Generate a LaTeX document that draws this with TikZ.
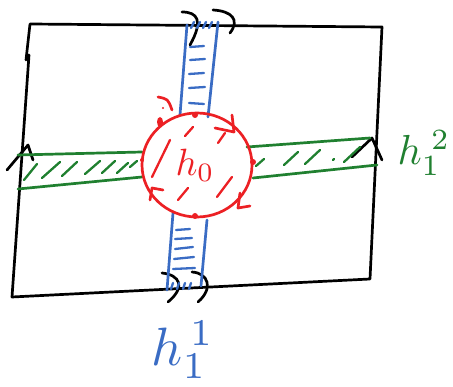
\documentclass[tikz,border=0pt]{standalone}
\usepackage{amsmath, amssymb}
\usepackage{tikz}
\usetikzlibrary{calc}

\definecolor{penblue}{RGB}{58,108,196}
\definecolor{pengreen}{RGB}{32,128,48}
\definecolor{penred}{RGB}{236,32,36}

\begin{document}
\begin{tikzpicture}[x=1pt, y=-1pt, line cap=round, line join=round,
    pen/.style={line width=2.7pt},
    hatch/.style={line width=2.3pt}]
    \useasboundingbox (0,0) rectangle (453,387);

    % Rectangle
    \draw[pen] (26,60) -- (30,24) -- (382,27) -- (370,279) -- (12,297) -- (29,55);

    % Identification arrows, top and bottom
    \draw[pen] (182,12) .. controls (197,12) and (204,20) .. (190,45);
    \draw[pen] (213,10) .. controls (232,11) and (240,20) .. (230,33);
    \draw[pen] (162,273) .. controls (180,275) and (186,287) .. (168,302);
    \draw[pen] (192,272) .. controls (208,273) and (214,288) .. (198,302);

    % Identification arrows, left and right
    \draw[pen] (7,170) -- (28,145) -- (33,160);
    \draw[pen] (352,157) -- (372,138) -- (382,160);

    % Blue band
    \draw[pen, penblue] (187,25) -- (180,115);
    \draw[pen, penblue] (218,22) -- (208,117);
    \draw[pen, penblue] (173,213) -- (167,290);
    \draw[pen, penblue] (207,220) -- (201,286);
    \draw[hatch, penblue] (190,47) -- (204,46);
    \draw[hatch, penblue] (190,60) -- (205,59);
    \draw[hatch, penblue] (189,74) -- (204,73);
    \draw[hatch, penblue] (189,88) -- (205,87);
    \draw[hatch, penblue] (189,103) -- (204,104);
    \draw[hatch, penblue] (176,230) -- (190,229);
    \draw[hatch, penblue] (175,239) -- (192,238);
    \draw[hatch, penblue] (175,249) -- (193,247);
    \draw[hatch, penblue] (174,259) -- (194,257);
    \draw[hatch, penblue] (173,269) -- (195,268);
    \draw[hatch, penblue] (191,28) -- (194,22) (197,28) -- (200,22) (203,28) -- (206,22) (209,28) -- (212,22);
    \draw[hatch, penblue] (171,289) -- (173,283) (177,289) -- (179,283) (183,289) -- (185,283) (189,289) -- (191,283);

    % Green band
    \draw[pen, pengreen] (18,155) -- (142,152);
    \draw[pen, pengreen] (18,189) -- (142,177);
    \draw[pen, pengreen] (247,147) -- (370,138);
    \draw[pen, pengreen] (253,178) -- (377,165);
    \draw[hatch, pengreen] (24,180) -- (37,164);
    \draw[hatch, pengreen] (42,178) -- (60,162);
    \draw[hatch, pengreen] (62,176) -- (77,162);
    \draw[hatch, pengreen] (85,174) -- (100,161);
    \draw[hatch, pengreen] (102,173) -- (115,161);
    \draw[hatch, pengreen] (117,173) -- (128,163);
    \draw[hatch, pengreen] (130,167) -- (137,161);
    \draw[hatch, pengreen] (256,166) -- (264,159);
    \draw[hatch, pengreen] (284,165) -- (298,152);
    \draw[hatch, pengreen] (305,164) -- (320,150);
    \draw[hatch, pengreen] (333,160) -- (334,159);
    \draw[hatch, pengreen] (344,162) -- (360,147);

    % Red disc
    \draw[pen, penred] (197,165) ellipse (55 and 52);
    \draw[hatch, penred] (152,177) -- (170,140);
    \draw[hatch, penred] (185,136) -- (193,127);
    \draw[hatch, penred] (218,143) -- (225,133);
    \draw[hatch, penred] (178,200) -- (188,188);
    \draw[hatch, penred] (217,197) -- (232,177);
    \draw[pen, penred] (215,128) -- (234,132) -- (232,115);
    \draw[pen, penred] (250,206) -- (238,208) -- (240,193);
    \draw[pen, penred] (163,190) -- (152,188) -- (150,200);
    \draw[pen, penred] (158,97) .. controls (168,99) .. (172,110);
    \fill[penred] (160,122) ellipse (3 and 5);
    \fill[penred] (195,115) circle (3);
    \fill[penred] (253,162) circle (3);
    \fill[penred] (195,216) circle (3);
    \fill[penred] (142,160) circle (2);
    \fill[penred] (163,108) circle (1.2);

    % Labels
    \node[penred, scale=3.8] (hzero) at (195,165) {$h_0$};
    \node[penblue, scale=5.4] (honeone) at (183,350) {$h_1^{\,1}$};
    \node[pengreen, scale=4.2] (honetwo) at (424,153) {$h_1^{\;2}$};
\end{tikzpicture}
\end{document}
